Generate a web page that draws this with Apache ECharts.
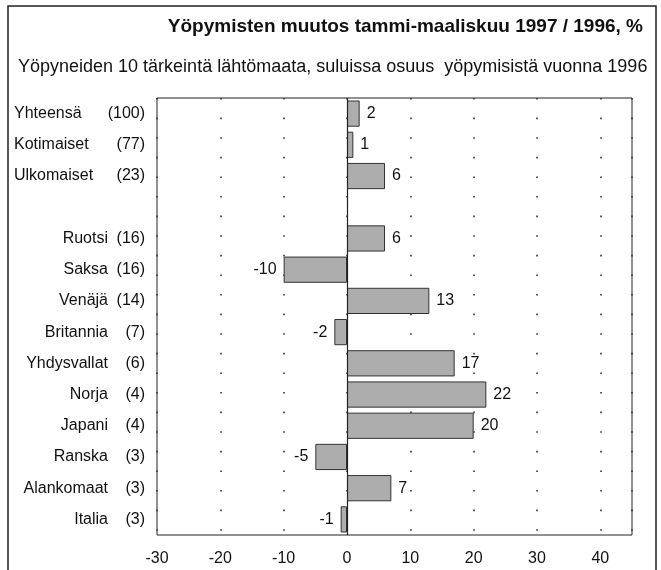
<!DOCTYPE html>
<html>
<head>
<meta charset="utf-8">
<script src="https://cdn.jsdelivr.net/npm/echarts@6/dist/echarts.min.js"></script>
<style>
html,body{margin:0;padding:0;background:#fff;}
#chart{width:661px;height:570px;}
</style>
</head>
<body>
<div id="chart"></div>
<script>
const titleText = 'Yöpymisten muutos tammi-maaliskuu 1997 / 1996, %';
const subtitleText = 'Yöpyneiden 10 tärkeintä lähtömaata, suluissa osuus  yöpymisistä vuonna 1996';
const categories = ['Yhteensä','Kotimaiset','Ulkomaiset','','Ruotsi','Saksa','Venäjä','Britannia','Yhdysvallat','Norja','Japani','Ranska','Alankomaat','Italia'];
const shares = ['100','77','23','','16','16','14','7','6','4','4','3','3','3'];
const changes = [2,1,6,null,6,-10,13,-2,17,22,20,-5,7,-1];
const summaryRows = 3;
const xTicks = [-30,-20,-10,0,10,20,30,40];

const FONT = '"Liberation Sans", Arial, sans-serif';
const chart = echarts.init(document.getElementById('chart'), null, {renderer:'canvas'});

const barData = changes.map(v => v === null ? null : ({
  value: v,
  label: { position: v < 0 ? 'left' : 'right' }
}));

chart.setOption({
  animation: false,
  backgroundColor: '#fff',
  graphic: [{
    type: 'rect',
    shape: { x: 8, y: 6, width: 648, height: 580 },
    style: { fill: 'none', stroke: '#222', lineWidth: 1.5 },
    z: 100
  }],
  title: [{
    text: titleText,
    right: 18, top: 17, padding: 0,
    textStyle: { fontFamily: FONT, fontSize: 19, fontWeight: 'bold', color: '#111' }
  }, {
    text: subtitleText,
    left: 18, top: 58, padding: 0,
    textStyle: { fontFamily: FONT, fontSize: 18, fontWeight: 'normal', color: '#111' }
  }],
  grid: {
    left: 157, right: 29, top: 98, bottom: 35,
    show: true, borderColor: '#222', borderWidth: 1, backgroundColor: 'transparent'
  },
  xAxis: {
    type: 'value',
    min: -30, max: 45, interval: 10,
    axisLine: { show: false },
    axisTick: { show: false },
    axisLabel: {
      fontFamily: FONT, fontSize: 16, color: '#111', margin: 16,
      formatter: v => xTicks.includes(v) ? String(v) : ''
    },
    splitLine: { show: true, lineStyle: { color: '#333', width: 1.6, type: [1.6, 18] } }
  },
  yAxis: {
    type: 'category',
    data: categories,
    inverse: true,
    axisLine: { show: false },
    axisTick: { show: false },
    splitLine: { show: false },
    axisLabel: {
      margin: 12,
      fontFamily: FONT, fontSize: 16, color: '#111',
      formatter: (val, idx) => {
        if (val === '') return '';
        const n = idx < summaryRows ? 'nl' : 'nr';
        return '{' + n + '|' + val + '}{p|(' + shares[idx] + ')}';
      },
      rich: {
        nl: { width: 94, align: 'left', fontFamily: FONT, fontSize: 16, color: '#111' },
        nr: { width: 94, align: 'right', fontFamily: FONT, fontSize: 16, color: '#111' },
        p: { width: 37, align: 'right', fontFamily: FONT, fontSize: 16, color: '#111' }
      }
    }
  },
  series: [{
    type: 'bar',
    data: barData,
    barWidth: '84%',
    itemStyle: { color: '#adadad', borderColor: '#333', borderWidth: 1 },
    label: {
      show: true, distance: 7,
      fontFamily: FONT, fontSize: 16, color: '#111'
    },
    markLine: {
      silent: true, symbol: 'none', label: { show: false },
      lineStyle: { color: '#222', width: 1.2, type: 'solid' },
      data: [{ xAxis: 0 }]
    }
  }]
});
</script>
</body>
</html>
